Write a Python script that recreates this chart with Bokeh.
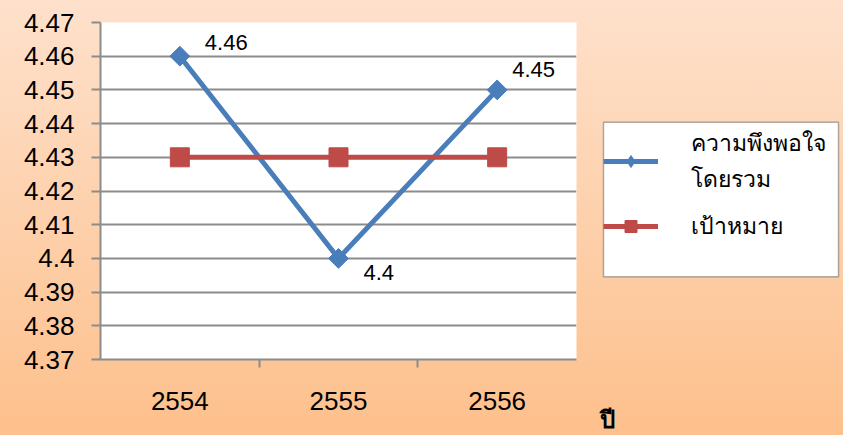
from bokeh.plotting import figure
from bokeh.layouts import row
from bokeh.models import (FactorRange, Range1d, LinearAxis, CategoricalAxis, BoxAnnotation,
                          FixedTicker, Legend, LegendItem, ColumnDataSource)
from bokeh.core.properties import value
from bokeh.embed import file_html
from bokeh.resources import INLINE

years = ["2554", "2555", "2556"]
satisfaction = [4.46, 4.40, 4.45]
target = [4.43, 4.43, 4.43]
sat_labels = ["4.46", "4.4", "4.45"]
y_ticks = [4.37, 4.38, 4.39, 4.40, 4.41, 4.42, 4.43, 4.44, 4.45, 4.46, 4.47]
y_tick_labels = ["4.37", "4.38", "4.39", "4.4", "4.41", "4.42", "4.43", "4.44", "4.45", "4.46", "4.47"]
series_names = ["ความพึงพอใจ\nโดยรวม", "เป้าหมาย"]
x_title = "ปี"

# label offsets (style)
label_dx = [25, 25, 15]
label_dy = [-14, 14, -20]

NUM_FONT = "Liberation Sans"
THAI_FONT = "Tahoma"
BLUE = "#4A7EBB"
RED = "#BE4B48"
GRID = "#8C8C8C"
BG = {"background": "linear-gradient(#FEE1CC, #FDC08C)"}

# ---------------- main chart ----------------
p = figure(width=590, height=435, output_backend="svg", toolbar_location=None,
           x_range=FactorRange(*years), y_range=Range1d(4.37, 4.47),
           x_axis_location=None, y_axis_location=None,
           min_border_left=100, min_border_right=14, min_border_top=22, min_border_bottom=75)
p.border_fill_alpha = 0
p.background_fill_color = "white"
p.outline_line_color = None
p.styles = BG

yax = LinearAxis(ticker=FixedTicker(ticks=y_ticks),
                 major_label_overrides=dict(zip(y_ticks, y_tick_labels)))
yax.axis_line_color = GRID
yax.axis_line_width = 2
yax.major_tick_line_color = GRID
yax.major_tick_line_width = 2
yax.major_tick_out = 9
yax.major_tick_in = 0
yax.minor_tick_line_color = None
yax.major_label_standoff = 17
yax.major_label_text_font = NUM_FONT
yax.major_label_text_font_size = "26px"
yax.major_label_text_color = "black"
p.add_layout(yax, "left")

# tick marks on the category boundaries (helper range whose factor centres
# sit on the edges of the year categories)
bounds = ["b0", "b1", "b2", "b3"]
p.extra_x_ranges = {"bound": FactorRange(*bounds, range_padding=-0.5,
                                         range_padding_units="absolute")}
xtick = CategoricalAxis(x_range_name="bound")
xtick.axis_line_color = GRID
xtick.axis_line_width = 2
xtick.major_tick_line_color = GRID
xtick.major_tick_line_width = 2
xtick.major_tick_out = 8
xtick.major_tick_in = 0
xtick.minor_tick_line_color = None
xtick.major_label_text_color = None
xtick.major_label_text_font_size = "1px"
xtick.major_label_standoff = 0
p.add_layout(xtick, "below")

xax = CategoricalAxis()
xax.axis_line_color = None
xax.major_tick_line_color = None
xax.minor_tick_line_color = None
xax.major_label_standoff = 18
xax.major_label_text_font = NUM_FONT
xax.major_label_text_font_size = "26px"
xax.major_label_text_color = "black"
p.add_layout(xax, "below")

p.xgrid.visible = False
p.ygrid.ticker = FixedTicker(ticks=y_ticks)
p.ygrid.grid_line_color = GRID
p.ygrid.grid_line_width = 2

src = ColumnDataSource(dict(x=years, sat=satisfaction, tgt=target, lab=sat_labels,
                            dx=label_dx, dy=label_dy))

p.line("x", "sat", source=src, line_color=BLUE, line_width=5)
p.scatter("x", "sat", source=src, marker="square", size=14, angle=0.785398,
          fill_color=BLUE, line_color=BLUE)
p.line("x", "tgt", source=src, line_color=RED, line_width=5)
p.scatter("x", "tgt", source=src, marker="square", size=19,
          fill_color=RED, line_color=RED)

p.text("x", "sat", text="lab", source=src, x_offset="dx", y_offset="dy",
       text_font=value(NUM_FONT), text_font_size="22px", text_baseline="middle",
       text_align="left", text_color="black")

# ---------------- legend panel (frame aligned with the chart: y 22..360) ----------------
q = figure(width=253, height=435, output_backend="svg", toolbar_location=None,
           x_range=Range1d(0, 253), y_range=Range1d(0, 338),
           x_axis_location=None, y_axis_location=None,
           min_border_left=0, min_border_right=0, min_border_top=22, min_border_bottom=75)
q.border_fill_alpha = 0
q.background_fill_alpha = 0
q.outline_line_color = None
q.grid.visible = False
q.styles = BG

# legend frame box
q.add_layout(BoxAnnotation(left=13, right=248, top=238, bottom=83,
                           fill_color="white", fill_alpha=1,
                           line_color="black", line_width=1.5, level="underlay"))

# legend swatch renderers (no visible marks of their own)
proxy = ColumnDataSource(dict(x=[float("nan")], y=[float("nan")]))
l1 = q.line("x", "y", source=proxy, line_color=BLUE, line_width=5)
m1 = q.scatter("x", "y", source=proxy, marker="diamond",
               fill_color=BLUE, line_color=BLUE)
l2 = q.line("x", "y", source=proxy, line_color=RED, line_width=5)
m2 = q.scatter("x", "y", source=proxy, marker="square",
               fill_color=RED, line_color=RED)

legend = Legend(items=[LegendItem(label=series_names[0], renderers=[l1, m1]),
                       LegendItem(label=series_names[1], renderers=[l2, m2])],
                location=(13, 115))
legend.label_text_font = THAI_FONT
legend.label_text_font_size = "23px"
legend.label_text_line_height = 0.95
legend.label_text_color = "black"
legend.glyph_width = 55
legend.glyph_height = 30
legend.label_standoff = 33
legend.padding = 9
legend.spacing = 11
legend.margin = 0
legend.border_line_color = None
legend.background_fill_alpha = 0
q.add_layout(legend, "center")

# x-axis title "ปี" placed to the right of the category axis
title_axis = LinearAxis(ticker=FixedTicker(ticks=[16.5]),
                        major_label_overrides={16.5: x_title})
title_axis.axis_line_color = None
title_axis.major_tick_line_color = None
title_axis.minor_tick_line_color = None
title_axis.major_tick_out = 0
title_axis.minor_tick_out = 0
title_axis.major_label_standoff = 47
title_axis.major_label_text_font = THAI_FONT
title_axis.major_label_text_font_size = "24px"
title_axis.major_label_text_font_style = "bold"
title_axis.major_label_text_line_height = 0.8
title_axis.major_label_text_color = "black"
q.add_layout(title_axis, "below")

layout = row(p, q)
open("out.html", "w").write(file_html(layout, INLINE))
